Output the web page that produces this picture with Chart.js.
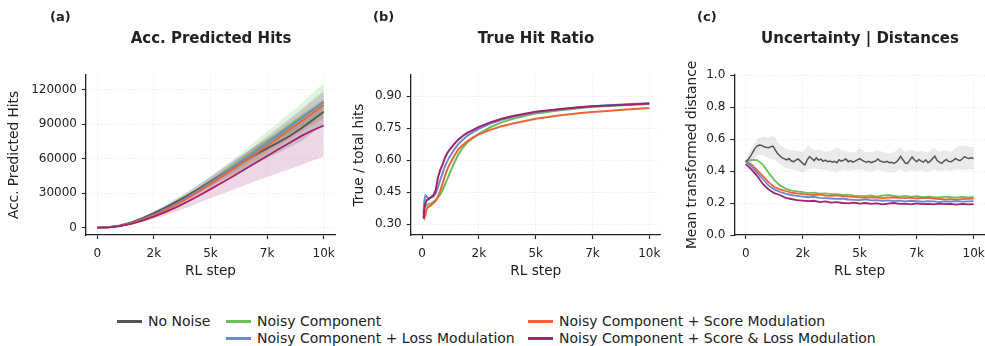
<html>
<head>
  <title>RL step curves</title>
  <script src="https://cdn.jsdelivr.net/npm/chart.js"></script>
  <style>
    body { margin: 0; background: #fff; font-family: 'DejaVu Sans', sans-serif; color: #222; }
    #wrap { position: relative; width: 985px; height: 346px; overflow: hidden; }
    canvas { position: absolute; top: 0; }
    .tag { position: absolute; top: 9px; font-weight: bold; font-size: 13px; }
    .ttl { position: absolute; top: 29px; font-weight: bold; font-size: 15px; transform: translateX(-50%); white-space: nowrap; }
    .leg { position: absolute; font-size: 14px; white-space: nowrap; line-height: 16px; }
    .leg i { position: absolute; height: 2.5px; width: 25px; }
  </style>
</head>
<body>
<div id="wrap">
  <canvas id="ca" width="340" height="290" style="left:0px"></canvas>
  <canvas id="cb" width="325" height="290" style="left:340px"></canvas>
  <canvas id="cc" width="320" height="290" style="left:665px"></canvas>
  <div class="tag" style="left:50px">(a)</div>
  <div class="tag" style="left:373px">(b)</div>
  <div class="tag" style="left:697px">(c)</div>
  <div class="ttl" style="left:211px">Acc. Predicted Hits</div>
  <div class="ttl" style="left:536px">True Hit Ratio</div>
  <div class="ttl" style="left:860px">Uncertainty | Distances</div>
  <div id="legend"></div>
</div>
<script>
// 系列名稱與顏色
const seriesNames = ['No Noise', 'Noisy Component', 'Noisy Component + Loss Modulation',
  'Noisy Component + Score Modulation', 'Noisy Component + Score & Loss Modulation'];
const seriesColors = ['#555555', '#6abf5a', '#6b88d0', '#ef6430', '#a0236e'];
const xTicks = [0, 2500, 5000, 7500, 10000];

// (a) Acc. Predicted Hits
const stepsA = [0,500,1000,1500,2000,2500,3000,3500,4000,4500,5000,5500,6000,6500,7000,7500,8000,8500,9000,9500,10000];
const hitsNoNoise = [0,300,1800,4500,8200,12600,17400,22600,28200,34100,40200,46300,52300,58200,63800,69000,74200,79800,86300,93500,101000];
const hitsNoisy = [0,250,1500,3900,7300,11400,16100,21400,27200,33400,39900,46600,53500,60500,67600,74800,82000,89200,96300,102900,108800];
const hitsLoss = [0,250,1500,3900,7200,11200,15800,21000,26700,32900,39300,45900,52700,59600,66600,73600,80700,87900,95200,102500,109800];
const hitsScore = [0,200,1300,3600,6800,10700,15100,20100,25600,31600,37900,44400,51000,57700,64400,71200,78200,85300,92500,99700,106800];
const hitsBoth = [0,200,1200,3300,6100,9500,13400,17800,22700,28000,33500,39100,44800,50600,56500,62400,68200,74000,79700,84600,89000];
const stepsBandA = [0,1000,2000,3000,4000,5000,6000,7000,8000,9000,10000];
const bandNoNoiseLo = [0,1500,7200,15300,25000,35500,46000,56000,65000,75000,90000];
const bandNoNoiseHi = [0,2100,9200,19500,31500,44500,58000,71000,83000,96000,111000];
const bandNoisyLo = [0,1200,6400,14200,24200,35800,48000,60500,73000,85000,96000];
const bandNoisyHi = [0,1800,8300,18200,30500,44500,59500,75500,91500,108000,126000];
const bandLossLo = [0,1300,6600,14600,24800,36500,49000,62000,75000,88000,101000];
const bandLossHi = [0,1700,7900,17200,29000,42500,57000,72000,87500,103000,120000];
const bandScoreLo = [0,1100,6000,13300,22800,34000,46000,58000,70500,83000,95000];
const bandScoreHi = [0,1500,7700,17000,28800,42200,56500,71500,86500,102000,118000];
const bandBothLo = [0,900,4800,10500,17800,25600,33000,40500,47500,54500,62000];
const bandBothHi = [0,1500,7400,16300,27600,41000,55000,69500,84000,98500,112000];
const ticksA = [0,30000,60000,90000,120000];

// (b) True Hit Ratio
const stepsB = [70,100,150,200,250,300,400,500,600,700,800,900,1000,1100,1200,1400,1600,1800,2000,2250,2500,3000,3500,4000,5000,6000,7000,7500,8000,9000,10000];
const ratioNoisy = [0.36,0.39,0.385,0.39,0.393,0.395,0.398,0.405,0.415,0.425,0.44,0.46,0.485,0.51,0.535,0.585,0.628,0.66,0.685,0.705,0.724,0.755,0.778,0.795,0.82,0.834,0.845,0.85,0.853,0.859,0.864];
const ratioLoss = [0.35,0.41,0.435,0.43,0.425,0.42,0.425,0.43,0.445,0.475,0.508,0.54,0.57,0.594,0.615,0.648,0.677,0.698,0.716,0.733,0.748,0.772,0.79,0.804,0.825,0.838,0.849,0.853,0.857,0.863,0.868];
const ratioScore = [0.34,0.33,0.345,0.37,0.38,0.383,0.39,0.4,0.41,0.43,0.458,0.49,0.525,0.555,0.578,0.618,0.652,0.672,0.69,0.708,0.722,0.743,0.76,0.773,0.795,0.81,0.822,0.826,0.83,0.838,0.845];
const ratioBoth = [0.327,0.37,0.4,0.413,0.415,0.42,0.428,0.437,0.46,0.52,0.555,0.58,0.61,0.632,0.648,0.675,0.698,0.715,0.73,0.743,0.757,0.778,0.795,0.808,0.828,0.84,0.85,0.853,0.856,0.861,0.866];
const ticksB = [0.30,0.45,0.60,0.75,0.90];

// (c) Uncertainty | Distances
const stepsC1 = [0,100,200,300,400,500,600,700,800,900,1000,1100,1200,1300,1400,1500,1600,1700,1800,1900,2000,2100,2200,2300,2400,2500,2600,2700,2800,2900,3000,3100,3200,3300,3400,3500,3600,3700,3800,3900,4000,4100,4200,4300,4400,4500,4600,4700,4800,4900,5000,5100,5200,5300,5400,5500,5600,5700,5800,5900,6000,6100,6200,6300,6400,6500,6600,6700,6800,6900,7000,7100,7200,7300,7400,7500,7600,7700,7800,7900,8000,8100,8200,8300,8400,8500,8600,8700,8800,8900,9000,9100,9200,9300,9400,9500,9600,9700,9800,9900,10000];
const distNoNoise = [0.462,0.47,0.49,0.515,0.54,0.556,0.562,0.56,0.552,0.548,0.545,0.552,0.556,0.53,0.51,0.495,0.482,0.476,0.47,0.478,0.462,0.458,0.468,0.475,0.462,0.448,0.438,0.47,0.49,0.478,0.465,0.482,0.468,0.474,0.46,0.468,0.458,0.462,0.455,0.46,0.452,0.47,0.462,0.468,0.475,0.458,0.465,0.455,0.462,0.47,0.478,0.468,0.46,0.455,0.46,0.452,0.458,0.462,0.475,0.462,0.458,0.455,0.46,0.452,0.455,0.448,0.455,0.47,0.492,0.47,0.45,0.448,0.468,0.488,0.47,0.458,0.472,0.462,0.455,0.47,0.452,0.462,0.478,0.492,0.465,0.455,0.448,0.462,0.472,0.46,0.458,0.465,0.478,0.47,0.465,0.475,0.49,0.482,0.478,0.482,0.478];
const stepsC2 = [0,250,500,750,1000,1250,1500,1750,2000,2250,2500,2750,3000,3250,3500,3750,4000,4250,4500,4750,5000,5250,5500,5750,6000,6250,6500,6750,7000,7250,7500,7750,8000,8250,8500,8750,9000,9250,9500,9750,10000];
const bandDistLo = [0.455,0.45,0.5,0.5,0.48,0.47,0.44,0.42,0.41,0.405,0.39,0.41,0.415,0.41,0.405,0.4,0.395,0.41,0.4,0.405,0.41,0.4,0.395,0.41,0.4,0.395,0.39,0.41,0.395,0.405,0.4,0.405,0.395,0.41,0.4,0.405,0.4,0.41,0.405,0.41,0.41];
const bandDistHi = [0.47,0.54,0.6,0.615,0.61,0.62,0.56,0.54,0.53,0.525,0.52,0.56,0.53,0.535,0.52,0.525,0.55,0.53,0.52,0.515,0.54,0.52,0.515,0.53,0.52,0.51,0.515,0.55,0.52,0.535,0.52,0.525,0.515,0.545,0.52,0.53,0.52,0.55,0.56,0.555,0.545];
const distNoisy = [0.46,0.47,0.468,0.44,0.39,0.345,0.31,0.29,0.278,0.272,0.268,0.262,0.265,0.258,0.26,0.255,0.256,0.25,0.252,0.246,0.245,0.243,0.248,0.24,0.246,0.25,0.244,0.24,0.245,0.238,0.242,0.236,0.24,0.237,0.235,0.24,0.236,0.233,0.238,0.235,0.237];
const distScore = [0.46,0.44,0.405,0.37,0.33,0.3,0.285,0.275,0.265,0.26,0.256,0.252,0.25,0.252,0.246,0.245,0.248,0.243,0.24,0.238,0.235,0.232,0.236,0.233,0.23,0.234,0.236,0.232,0.23,0.233,0.228,0.23,0.232,0.228,0.225,0.222,0.224,0.22,0.224,0.226,0.228];
const distLoss = [0.46,0.43,0.39,0.35,0.31,0.285,0.27,0.258,0.25,0.245,0.24,0.236,0.238,0.232,0.23,0.228,0.226,0.228,0.222,0.22,0.218,0.222,0.216,0.218,0.214,0.216,0.212,0.215,0.21,0.214,0.212,0.208,0.212,0.21,0.206,0.21,0.208,0.212,0.208,0.21,0.212];
const distBoth = [0.445,0.41,0.37,0.32,0.285,0.262,0.25,0.232,0.225,0.218,0.215,0.212,0.214,0.205,0.21,0.202,0.205,0.2,0.198,0.202,0.196,0.2,0.194,0.198,0.192,0.196,0.2,0.194,0.196,0.192,0.197,0.193,0.195,0.192,0.196,0.193,0.195,0.19,0.194,0.192,0.193];
const ticksC = [0,0.2,0.4,0.6,0.8,1.0];

const FAMILY = "'DejaVu Sans', sans-serif";
const INK = '#222';

function pts(xs, ys) { return xs.map((x, i) => ({x: x, y: ys[i]})); }
function line(k, xs, ys, order, w) {
  return {data: pts(xs, ys), borderColor: seriesColors[k], borderWidth: w || 1.8,
    pointRadius: 0, fill: false, order: order};
}
function band(k, xs, lo, hi, alpha) {
  const c = seriesColors[k];
  const r = parseInt(c.slice(1, 3), 16), g = parseInt(c.slice(3, 5), 16), b = parseInt(c.slice(5, 7), 16);
  return [
    {data: pts(xs, lo), borderWidth: 0, pointRadius: 0, fill: false, order: 20},
    {data: pts(xs, hi), borderWidth: 0, pointRadius: 0, fill: '-1', order: 20,
      backgroundColor: `rgba(${r},${g},${b},${alpha})`}
  ];
}

function options(yMin, yMax, yTicks, yWidth, padRight, yTitle, yTitlePad, yFmt) {
  const grid = {color: '#e2e2e2', lineWidth: 0.8, tickLength: 4, tickColor: INK, tickWidth: 1.1};
  const border = {display: true, color: INK, width: 1.3, dash: [1, 2]};
  return {
    responsive: false, animation: false,
    layout: {padding: {left: 0, right: padRight, top: 75, bottom: 0}},
    plugins: {legend: {display: false}, tooltip: {enabled: false}},
    scales: {
      x: {
        type: 'linear', min: -500, max: 10500,
        afterBuildTicks: s => { s.ticks = xTicks.map(v => ({value: v})); },
        // 固定軸高度，並取消標籤溢出造成的內縮
        afterFit: s => { s.height = 55; s.paddingLeft = 0; s.paddingRight = 0; },
        grid: grid, border: border,
        ticks: {font: {family: FAMILY, size: 12}, color: INK, padding: 8, maxRotation: 0, autoSkip: false,
          callback: v => v === 0 ? '0' : Math.floor(v / 1000) + 'k'},
        title: {display: true, text: 'RL step', color: INK, font: {family: FAMILY, size: 13.7},
          padding: {top: 0, bottom: 10}}
      },
      y: {
        type: 'linear', min: yMin, max: yMax,
        afterBuildTicks: s => { s.ticks = yTicks.map(v => ({value: v})); },
        afterFit: s => { s.width = yWidth; s.paddingTop = 0; s.paddingBottom = 0; },
        grid: grid, border: border,
        ticks: {font: {family: FAMILY, size: 12}, color: INK, padding: 5, autoSkip: false, callback: yFmt},
        title: {display: true, text: yTitle, color: INK, font: {family: FAMILY, size: 13.7},
          padding: {top: yTitlePad, bottom: 0}}
      }
    }
  };
}

// (a)
new Chart(document.getElementById('ca'), {
  type: 'line',
  data: {datasets: [
    line(0, stepsA, hitsNoNoise, 3), line(1, stepsA, hitsNoisy, 4), line(2, stepsA, hitsLoss, 2),
    line(3, stepsA, hitsScore, 1), line(4, stepsA, hitsBoth, 0),
    ...band(0, stepsBandA, bandNoNoiseLo, bandNoNoiseHi, 0.22),
    ...band(1, stepsBandA, bandNoisyLo, bandNoisyHi, 0.2),
    ...band(2, stepsBandA, bandLossLo, bandLossHi, 0.2),
    ...band(3, stepsBandA, bandScoreLo, bandScoreHi, 0.2),
    ...band(4, stepsBandA, bandBothLo, bandBothHi, 0.18)
  ]},
  options: options(-6500, 133000, ticksA, 86, 5, 'Acc. Predicted Hits', 6, v => String(v))
});

// (b)
new Chart(document.getElementById('cb'), {
  type: 'line',
  data: {datasets: [
    line(1, stepsB, ratioNoisy, 3, 2), line(2, stepsB, ratioLoss, 1, 2),
    line(3, stepsB, ratioScore, 2, 2), line(4, stepsB, ratioBoth, 0, 2)
  ]},
  options: options(0.25, 1.0, ticksB, 70.7, 4.3, 'True / total hits', 11, v => v.toFixed(2))
});

// (c)
new Chart(document.getElementById('cc'), {
  type: 'line',
  data: {datasets: [
    line(0, stepsC1, distNoNoise, 0, 1.5), line(1, stepsC2, distNoisy, 4), line(2, stepsC2, distLoss, 2),
    line(3, stepsC2, distScore, 3), line(4, stepsC2, distBoth, 1),
    ...band(0, stepsC2, bandDistLo, bandDistHi, 0.12)
  ]},
  options: options(0, 1.0, ticksC, 69.3, 0, 'Mean transformed distance', 19.5, v => v.toFixed(1))
});

// 圖例
const legendSpots = [[117, 321], [226, 321], [226, 338], [528, 321], [528, 338]];
const legend = document.getElementById('legend');
seriesNames.forEach((name, k) => {
  const [x, y] = legendSpots[k];
  const d = document.createElement('div');
  d.className = 'leg';
  d.style.left = (x + 31) + 'px';
  d.style.top = (y - 8) + 'px';
  d.textContent = name;
  const sw = document.createElement('i');
  sw.style.background = seriesColors[k];
  sw.style.left = '-31px';
  sw.style.top = '7px';
  d.appendChild(sw);
  legend.appendChild(d);
});
</script>
</body>
</html>
